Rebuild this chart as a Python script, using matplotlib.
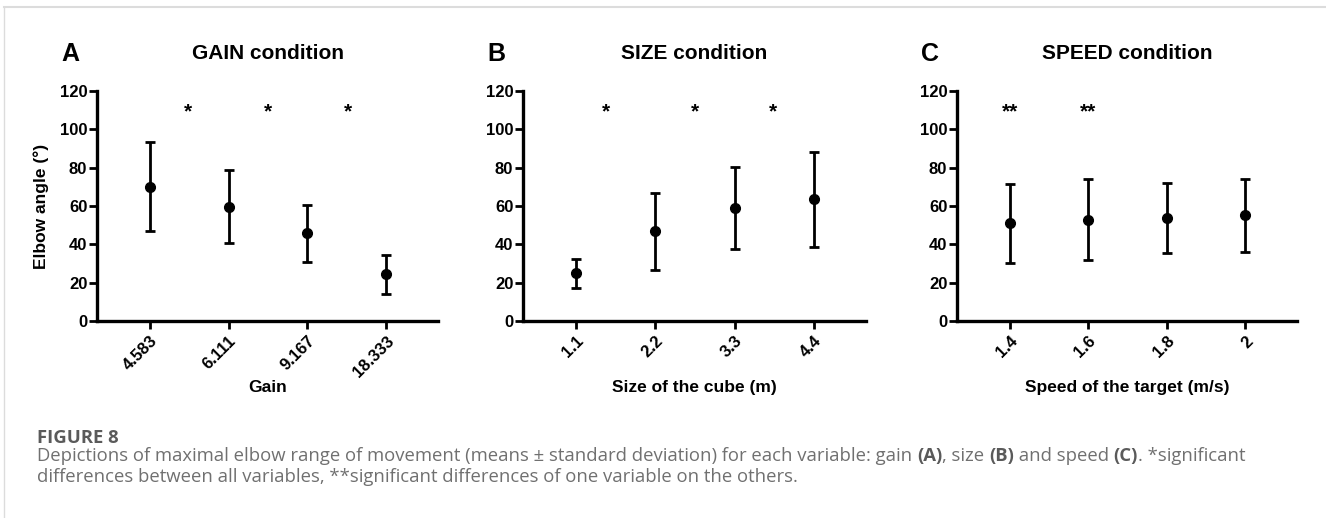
import matplotlib
matplotlib.use("Agg")
import matplotlib.pyplot as plt

# values (mean and standard deviation)
gain_labels = ["4.583", "6.111", "9.167", "18.333"]
gain_mean = [70.1, 59.7, 45.7, 24.3]
gain_sd = [23.2, 19.0, 15.0, 10.3]
gain_stars = [0.48, 1.5, 2.52]

size_labels = ["1.1", "2.2", "3.3", "4.4"]
size_mean = [24.8, 46.7, 59.0, 63.5]
size_sd = [7.5, 20.0, 21.5, 24.7]
size_stars = [0.38, 1.5, 2.49]

speed_labels = ["1.4", "1.6", "1.8", "2"]
speed_mean = [51.0, 52.8, 53.8, 55.1]
speed_sd = [20.6, 21.2, 18.1, 19.2]
speed_stars = [0.0, 1.0]

plt.rcParams["font.family"] = ["Liberation Sans", "DejaVu Sans"]

fig = plt.figure(figsize=(13.26, 5.18), dpi=100)

# frame lines of the page
bg = fig.add_axes([0, 0, 1, 1])
bg.set_xlim(0, 1326)
bg.set_ylim(518, 0)
bg.axis("off")
bg.plot([4, 1326], [7, 7], color="#dcdcdc", lw=1.5)
bg.plot([4, 4], [7, 518], color="#dcdcdc", lw=1.0)

panels = [
    ("A", "GAIN condition", "Gain", gain_labels, gain_mean, gain_sd, gain_stars, "*", 97, 341),
    ("B", "SIZE condition", "Size of the cube (m)", size_labels, size_mean, size_sd, size_stars, "*", 523, 343),
    ("C", "SPEED condition", "Speed of the target (m/s)", speed_labels, speed_mean, speed_sd, speed_stars, "**", 957, 340),
]

for letter, title, xlabel, labels, means, sds, stars, star_txt, left_px, width_px in panels:
    ax = fig.add_axes([left_px / 1326, 1 - 321 / 518, width_px / 1326, 230 / 518])
    xs = list(range(len(labels)))
    ax.errorbar(xs, means, yerr=sds, fmt="o", color="black", ms=7,
                elinewidth=2, capsize=3.5, capthick=2)
    for sx in stars:
        ax.text(sx, 109, star_txt, ha="center", va="center", fontsize=15,
                fontweight="bold")
    ax.set_xlim(-0.67, len(labels) - 0.34)
    ax.set_ylim(0, 120)
    ax.set_yticks(range(0, 121, 20))
    ax.set_xticks(xs)
    ax.set_xticklabels(labels, rotation=45, ha="right", va="top",
                       rotation_mode="anchor", fontsize=12, fontweight="bold")
    for lab in ax.get_yticklabels():
        lab.set_fontsize(12)
        lab.set_fontweight("bold")
    ax.tick_params(axis="both", width=2, length=6, color="black")
    ax.tick_params(axis="y", pad=1)
    ax.tick_params(axis="x", pad=3)
    for side in ["top", "right"]:
        ax.spines[side].set_visible(False)
    for side in ["left", "bottom"]:
        ax.spines[side].set_linewidth(2.4)
    ax.set_title(title, fontsize=15, fontweight="bold", pad=23)
    ax.text(-0.105, 1.13, letter, transform=ax.transAxes, fontsize=18,
            fontweight="bold", ha="left", va="baseline")
    ax.set_xlabel(xlabel, fontsize=12.5, fontweight="bold")
    ax.xaxis.set_label_coords(0.5, -0.255)
    if letter == "A":
        ax.set_ylabel("Elbow angle (°)", fontsize=12.5, fontweight="bold")
        ax.yaxis.set_label_coords(-0.14, 0.5)

# caption, drawn piece by piece so some parts can be bold
cap_font = ["Open Sans", "DejaVu Sans"]
grey = "#707070"
bg.text(37, 443, "FIGURE 8", fontsize=13.3, family=cap_font, fontweight="bold",
        color="#5a5a5a", va="baseline", ha="left")

line1 = [("Depictions of maximal elbow range of movement (means ± standard deviation) for each variable: gain ", False),
         ("(A)", True), (", size ", False), ("(B)", True), (" and speed ", False), ("(C)", True),
         (". *significant", False)]
line2 = [("differences between all variables, **significant differences of one variable on the others.", False)]

for pieces, base in [(line1, 461), (line2, 482)]:
    prev = None
    for txt, bold in pieces:
        kw = dict(fontsize=13.3, family=cap_font, color="#5a5a5a" if bold else grey,
                  fontweight="bold" if bold else "normal", va="baseline", ha="left")
        if prev is None:
            prev = bg.text(37, base, txt, **kw)
        else:
            prev = bg.annotate(txt, xy=(1, base), xycoords=(prev, "data"), **kw)

fig.savefig("out.png", dpi=100)
